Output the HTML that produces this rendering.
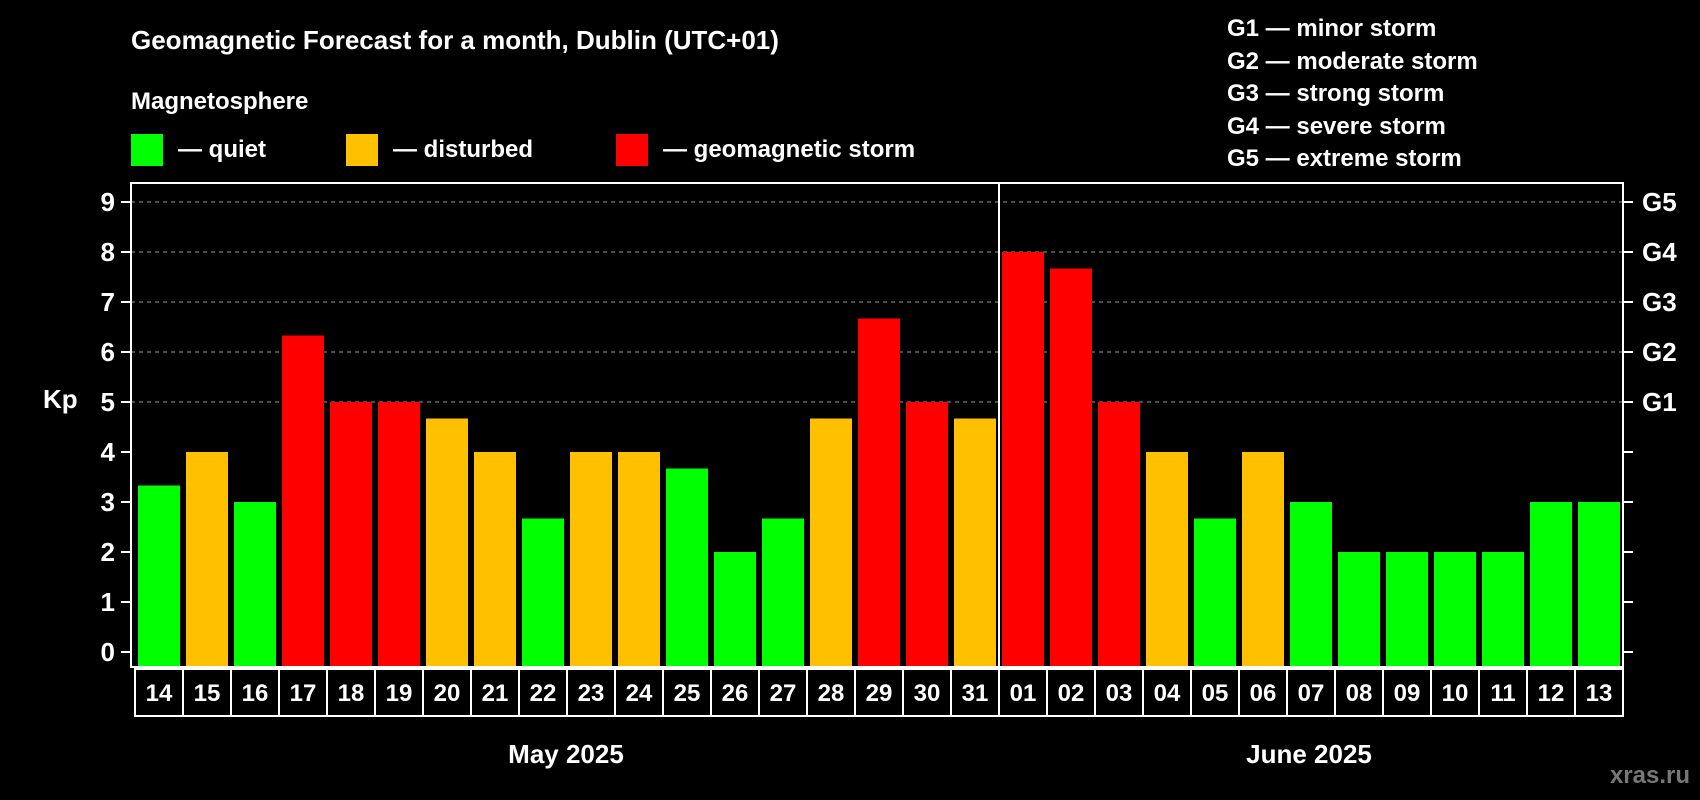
<!DOCTYPE html>
<html><head><meta charset="utf-8"><style>
html,body{margin:0;padding:0;background:#000;}
svg{display:block;font-family:"Liberation Sans",Arial,sans-serif;font-weight:bold;}
</style></head><body>
<svg id="chart" width="1700" height="800" viewBox="0 0 1700 800" xmlns="http://www.w3.org/2000/svg">
<rect width="1700" height="800" fill="#000"/>
<text x="131" y="49" fill="#fff" font-size="26">Geomagnetic Forecast for a month, Dublin (UTC+01)</text>
<text x="131" y="109" fill="#fff" font-size="24">Magnetosphere</text>
<g><rect x="131" y="134" width="32" height="32" fill="#00ff00"/><text x="178" y="157" fill="#fff" font-size="24">— quiet</text></g>
<g><rect x="346" y="134" width="32" height="32" fill="#ffc000"/><text x="393" y="157" fill="#fff" font-size="24">— disturbed</text></g>
<g><rect x="616" y="134" width="32" height="32" fill="#ff0000"/><text x="663" y="157" fill="#fff" font-size="24">— geomagnetic storm</text></g>
<g fill="#fff" font-size="24">
<text x="1227" y="36">G1 — minor storm</text>
<text x="1227" y="69">G2 — moderate storm</text>
<text x="1227" y="101">G3 — strong storm</text>
<text x="1227" y="134">G4 — severe storm</text>
<text x="1227" y="166">G5 — extreme storm</text>
</g>
<text x="43" y="408" fill="#fff" font-size="26">Kp</text>
<g id="grid"></g>
<g id="bars"></g>
<g id="axes"></g>
<text x="566" y="763" fill="#fff" font-size="26" text-anchor="middle">May 2025</text>
<text x="1309" y="763" fill="#fff" font-size="26" text-anchor="middle">June 2025</text>
<text x="1690" y="783" fill="#777" font-size="24" text-anchor="end">xras.ru</text>
</svg>
<script>
const days = ["14","15","16","17","18","19","20","21","22","23","24","25","26","27","28","29","30","31","01","02","03","04","05","06","07","08","09","10","11","12","13"];
const kpValues = [3.33,4,3,6.33,5,5,4.67,4,2.67,4,4,3.67,2,2.67,4.67,6.67,5,4.67,8,7.67,5,4,2.67,4,3,2,2,2,2,3,3];
const yTicks = [0,1,2,3,4,5,6,7,8,9];
const gLabels = ["","","","","","G1","G2","G3","G4","G5"];
const NS="http://www.w3.org/2000/svg";
const L=131,R=1623,T=183,B=667,slot0=135,slotW=48;
const y=v=>652-v*50;
const x=i=>slot0+i*slotW;
function mk(t,a,p){const e=document.createElementNS(NS,t);for(const k in a)e.setAttribute(k,a[k]);p.appendChild(e);return e;}
const grid=document.getElementById('grid'),bars=document.getElementById('bars'),axes=document.getElementById('axes');
yTicks.forEach((v,i)=>{
  if(v>=5){const g=mk('line',{x1:L,x2:R,y1:y(v),y2:y(v),stroke:'#999','stroke-dasharray':'4,4','stroke-width':1},grid);
  
  }
  const tl=mk('line',{x1:L-10,x2:L,y1:y(v),y2:y(v),stroke:'#fff','stroke-width':2},axes);
  
  
  const tr=mk('line',{x1:R,x2:R+10,y1:y(v),y2:y(v),stroke:'#fff','stroke-width':2},axes);
  
  
  const t=mk('text',{x:L-16,y:y(v)+9,fill:'#fff','font-size':26,'text-anchor':'end'},axes);t.textContent=v;
  
  
  if(gLabels[i]){const g=mk('text',{x:R+19,y:y(v)+9,fill:'#fff','font-size':26},axes);g.textContent=gLabels[i];
  
  }
});
kpValues.forEach((v,i)=>{
  const c=v>=5?'#ff0000':(v>=4?'#ffc000':'#00ff00');
  const b=mk('rect',{x:x(i)+3,y:y(v),width:42,height:B-y(v),fill:c},bars);
  
  
  const bx=mk('rect',{x:x(i),y:669,width:slotW,height:47,fill:'none',stroke:'#fff','stroke-width':2},axes);
  
  
  const t=mk('text',{x:x(i)+slotW/2,y:701,fill:'#fff','font-size':24,'text-anchor':'middle'},axes);t.textContent=days[i];
  
  
});
const fr=mk('rect',{x:L,y:T,width:R-L,height:B-T,fill:'none',stroke:'#fff','stroke-width':2},axes);


const sep=mk('line',{x1:x(18),x2:x(18),y1:T,y2:B,stroke:'#fff','stroke-width':2},axes);


</script>
</body></html>
